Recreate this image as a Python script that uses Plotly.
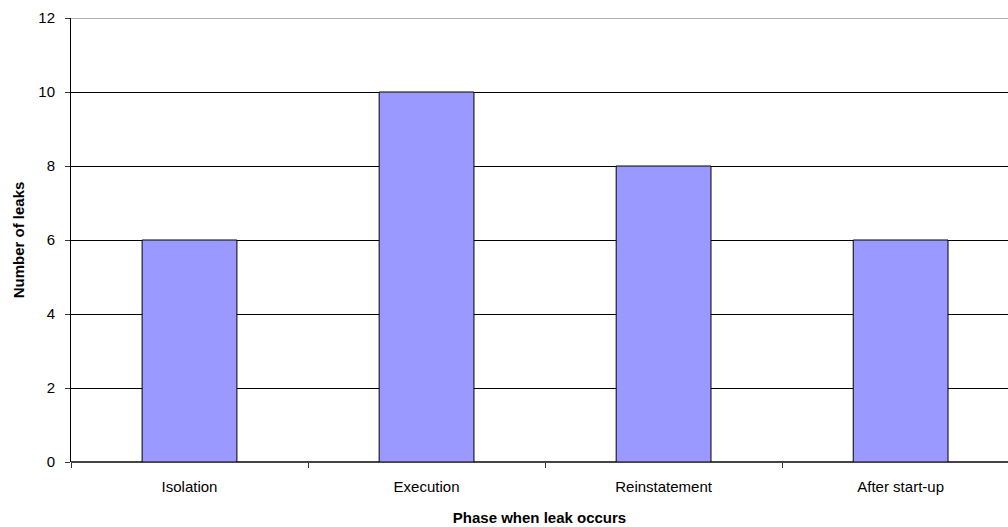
import plotly.graph_objects as go

phases = ["Isolation", "Execution", "Reinstatement", "After start-up"]
leaks = [6, 10, 8, 6]
y_ticks = [0, 2, 4, 6, 8, 10, 12]

fig = go.Figure(
    go.Bar(
        x=list(range(len(phases))),
        y=leaks,
        width=0.4,
        marker=dict(color="#9999FF", line=dict(color="#000000", width=1)),
    )
)

font = dict(family="Liberation Sans, Arial, sans-serif", size=15, color="#000000")

fig.update_layout(
    width=1008,
    height=527,
    margin=dict(l=71, r=0, t=18, b=65),
    paper_bgcolor="white",
    plot_bgcolor="white",
    font=font,
    showlegend=False,
    xaxis=dict(
        range=[-0.5, 3.453],
        tickmode="array",
        tickvals=list(range(len(phases))),
        ticktext=phases,
        ticks="",
        ticklabelstandoff=14,
        showgrid=False,
        zeroline=False,
        showline=False,
        minor=dict(
            tickmode="array",
            tickvals=[-0.5, 0.5, 1.5, 2.5, 3.5],
            ticks="outside",
            ticklen=5,
            tickcolor="#333333",
            showgrid=False,
        ),
        title=dict(text="<b>Phase when leak occurs</b>", font=dict(size=15), standoff=18),
        tickfont=dict(size=15),
    ),
    yaxis=dict(
        range=[0, 12],
        tickmode="array",
        tickvals=y_ticks,
        ticks="outside",
        ticklen=5,
        tickcolor="#333333",
        ticklabelstandoff=7,
        showgrid=True,
        gridcolor="#000000",
        gridwidth=1,
        zeroline=True,
        zerolinecolor="#444444",
        zerolinewidth=1.5,
        showline=True,
        linecolor="#000000",
        linewidth=1,
        title=dict(text="<b>Number of leaks</b>", font=dict(size=15), standoff=10),
        tickfont=dict(size=15),
    ),
)

# light border along the top of the plot area
fig.add_shape(
    type="line", xref="paper", yref="y", x0=0, x1=1, y0=12, y1=12,
    line=dict(color="#999999", width=1.5),
)

fig.write_html("out.html")
